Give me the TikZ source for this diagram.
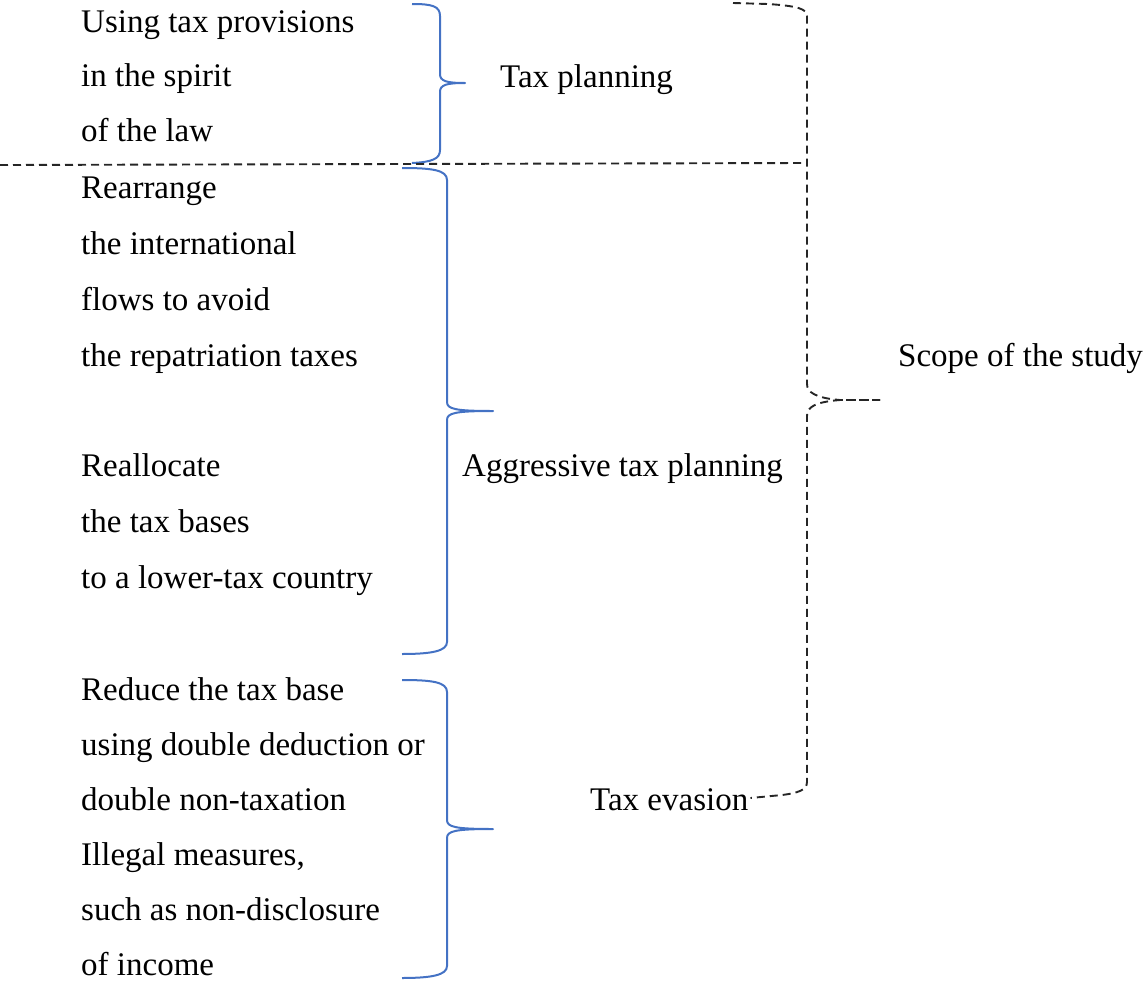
\documentclass[tikz,border=0pt]{standalone}
\usepackage{fontspec}
\usetikzlibrary{calc}
\setmainfont{Liberation Serif}
\definecolor{braceblue}{RGB}{68,114,196}
\begin{document}
\begin{tikzpicture}[x=1pt,y=-1pt,
  txt/.style={anchor=base west,inner sep=0pt,align=left,font=\fontsize{33}{56}\selectfont},
  bluebrace/.style={draw=braceblue,line width=2pt,line join=round},
  dashbrace/.style={draw=black!85,line width=1.9pt,dash pattern=on 8pt off 5pt}]
\useasboundingbox (0,0) rectangle (1146,980);
% text blocks (anchored at the baseline of their last line)
\node[txt,font=\fontsize{33}{54.5}\selectfont] (b1) at (81,141) {Using tax provisions\\in the spirit\\of the law};
\node[txt] (b2) at (81,366) {Rearrange\\the international\\flows to avoid\\the repatriation taxes};
\node[txt] (b3) at (81,588) {Reallocate\\the tax bases\\to a lower-tax country};
\node[txt,font=\fontsize{33}{55}\selectfont] (b4) at (81,975) {Reduce the tax base\\using double deduction or\\double non-taxation\\Illegal measures,\\such as non-disclosure\\of income};
% labels
\node[txt] (tp) at (500,87) {Tax planning};
\node[txt] (atp) at (462,476) {Aggressive tax planning};
\node[txt] (te) at (590,810) {Tax evasion};
\node[txt] (scope) at (898,366) {Scope of the study};
% blue braces
\coordinate (t1) at (465,83);
\coordinate (t2) at (493,411);
\coordinate (t3) at (493,829);
\path[bluebrace] (412,4) .. controls (432,4) and (440,6) .. (440,16) -- (440,74)
  .. controls (440,81) and (446,83) .. (t1)
  .. controls (446,83) and (440,85) .. (440,92) -- (440,150)
  .. controls (440,159) and (432,162) .. (412,163);
\path[bluebrace] (402,168) .. controls (432,168) and (447,170) .. (447,180) -- (447,402)
  .. controls (447,409) and (455,411) .. (t2)
  .. controls (455,411) and (447,413) .. (447,420) -- (447,642)
  .. controls (447,651) and (432,654) .. (402,654);
\path[bluebrace] (402,680) .. controls (432,680) and (447,682) .. (447,692) -- (447,820)
  .. controls (447,827) and (455,829) .. (t3)
  .. controls (455,829) and (447,831) .. (447,838) -- (447,966)
  .. controls (447,975) and (432,978) .. (402,978);
% dashed separator
\coordinate (sepL) at (0,165);
\coordinate (sepR) at (806,163);
\draw[dashbrace] (sepL) -- (sepR);
% dashed brace
\coordinate (st) at (880,400);
\coordinate (teend) at ($(te.base east)+(2,-12)$);
\path[dashbrace] (733,3) -- (768,4) .. controls (798,6) and (807,9) .. (807,16) -- (807,384)
  .. controls (807,392) and (815,398) .. (840,400) -- (st);
\path[dashbrace] (st) -- (840,400) .. controls (815,402) and (807,407) .. (807,416) -- (807,782)
  .. controls (807,790) and (798,793) .. (782,795) -- (teend);
\end{tikzpicture}
\end{document}
